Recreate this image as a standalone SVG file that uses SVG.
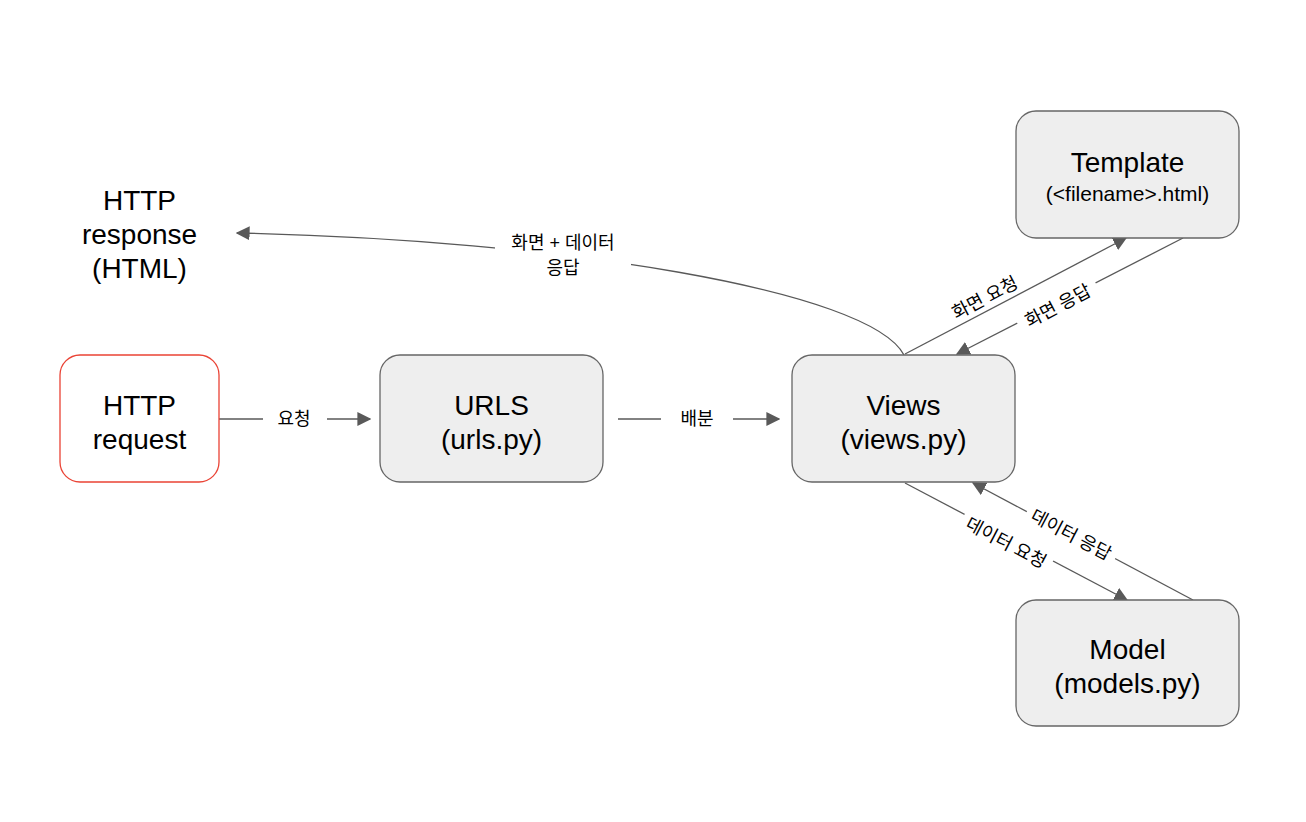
<svg xmlns="http://www.w3.org/2000/svg" width="1306" height="822" viewBox="0 0 1306 822">
<defs>
<marker id="ah" viewBox="0 0 10 10" refX="9" refY="5" markerWidth="14" markerHeight="14" markerUnits="userSpaceOnUse" orient="auto">
<path d="M0,0 L10,5 L0,10 z" fill="#595959"/>
</marker>
</defs>
<style>
.box{fill:#eeeeee;stroke:#666666;stroke-width:1.3}
.red{fill:#ffffff;stroke:#ea4335;stroke-width:1.3}
.t{font-family:"Liberation Sans","Noto Sans CJK KR",sans-serif;fill:#000;text-anchor:middle}
.big{font-size:28px}
.small{font-size:21px}
.lbl{font-family:"Liberation Sans","Noto Sans CJK KR",sans-serif;font-size:18px;fill:#000;text-anchor:middle}
.ln{fill:none;stroke:#595959;stroke-width:1.3}
</style>
<rect width="1306" height="822" fill="#ffffff"/>
<g id="connectors">
<path class="ln" d="M219,419 L263,419"/>
<path class="ln" d="M327,419 L370,419" marker-end="url(#ah)"/>
<text class="lbl" x="294" y="425">요청</text>
<path class="ln" d="M618,419 L661,419"/>
<path class="ln" d="M733,419 L779,419" marker-end="url(#ah)"/>
<text class="lbl" x="697" y="425">배분</text>
<path class="ln" d="M904,355 C870,290 560,240 237,233" marker-end="url(#ah)"/>
<rect x="495" y="230" width="136" height="54" fill="#ffffff"/>
<text class="lbl" x="563" y="249">화면 + 데이터</text>
<text class="lbl" x="563" y="274">응답</text>
<path class="ln" d="M905,354 L1126,238" marker-end="url(#ah)"/>
<path class="ln" d="M1183,238 L957,354" marker-end="url(#ah)"/>
<path class="ln" d="M905,483 L1127,600" marker-end="url(#ah)"/>
<path class="ln" d="M1193,600 L973,483" marker-end="url(#ah)"/>
<g transform="translate(985,298) rotate(-27.7)"><rect x="-44" y="-14" width="88" height="24" fill="#ffffff"/><text class="lbl" x="0" y="6">화면 요청</text></g>
<g transform="translate(1058,306) rotate(-27.7)"><rect x="-44" y="-14" width="88" height="24" fill="#ffffff"/><text class="lbl" x="0" y="6">화면 응답</text></g>
<g transform="translate(1006,543) rotate(27.8)"><rect x="-50" y="-14" width="100" height="24" fill="#ffffff"/><text class="lbl" x="0" y="6">데이터 요청</text></g>
<g transform="translate(1071,535) rotate(27.8)"><rect x="-50" y="-14" width="100" height="24" fill="#ffffff"/><text class="lbl" x="0" y="6">데이터 응답</text></g>
</g>
<g id="http-request">
<rect class="red" x="60" y="355" width="159" height="127" rx="20"/>
<text class="t big" x="139.5" y="415">HTTP</text>
<text class="t big" x="139.5" y="449">request</text>
</g>
<g id="http-response">
<text class="t big" x="139.5" y="210">HTTP</text>
<text class="t big" x="139.5" y="244">response</text>
<text class="t big" x="139.5" y="278">(HTML)</text>
</g>
<g id="urls">
<rect class="box" x="380" y="355" width="223" height="127" rx="20"/>
<text class="t big" x="491.5" y="415">URLS</text>
<text class="t big" x="491.5" y="449">(urls.py)</text>
</g>
<g id="views">
<rect class="box" x="792" y="355" width="223" height="127" rx="20"/>
<text class="t big" x="903.5" y="415">Views</text>
<text class="t big" x="903.5" y="449">(views.py)</text>
</g>
<g id="template">
<rect class="box" x="1016" y="111" width="223" height="127" rx="20"/>
<text class="t big" x="1127.5" y="172">Template</text>
<text class="t small" x="1127.5" y="201">(&lt;filename&gt;.html)</text>
</g>
<g id="model">
<rect class="box" x="1016" y="600" width="223" height="126" rx="20"/>
<text class="t big" x="1127.5" y="659">Model</text>
<text class="t big" x="1127.5" y="693">(models.py)</text>
</g>
</svg>
